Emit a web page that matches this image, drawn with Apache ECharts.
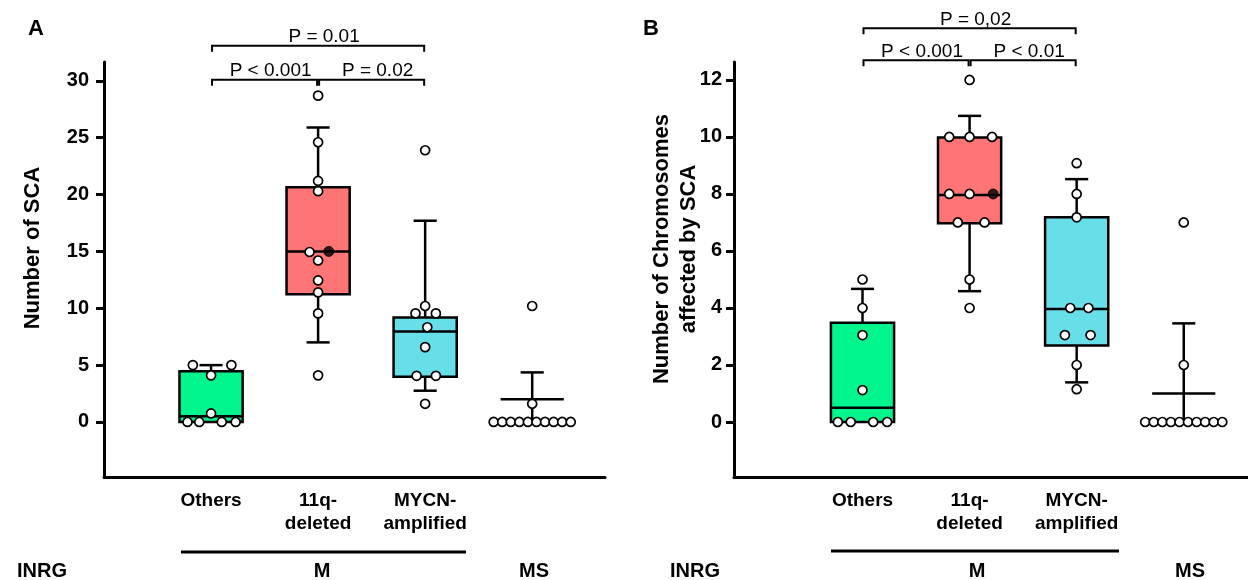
<!DOCTYPE html>
<html>
<head>
<meta charset="utf-8">
<script src="https://cdn.jsdelivr.net/npm/echarts@6/dist/echarts.min.js"></script>
<style>
  html, body { margin: 0; background: #fff; }
  #chart { width: 1248px; height: 580px; }
</style>
</head>
<body>
<div id="chart"></div>
<script>
// categories on both panels
const categories = ['Others', '11q-\ndeleted', 'MYCN-\namplified', 'MS'];
const groupColors = ['#00F58C', '#FF7474', '#67DFE9', null];

const scaTicks = [0, 5, 10, 15, 20, 25, 30];
const chrTicks = [0, 2, 4, 6, 8, 10, 12];

// per group: [whisker low, q1, median, q3, whisker high]
const scaStats = [
  [0, 0, 0.5, 4.47, 5.0],
  [7.0, 11.23, 15, 20.64, 25.9],
  [2.75, 3.97, 7.95, 9.18, 17.7],
  [0, 2, 2, 2, 4.36]
];
const chrStats = [
  [0, 0, 0.5, 3.48, 4.67],
  [4.59, 6.97, 7.96, 9.98, 10.74],
  [1.39, 2.68, 3.96, 7.18, 8.52],
  [0, 1, 1, 1, 3.46]
];

// individual patients: [jitter, value]
const scaOthers = [[-0.17, 5.0], [0.19, 5.0], [0, 4.1], [0, 0.75], [-0.22, 0], [-0.11, 0], [0.1, 0], [0.23, 0]];
const sca11q = [[0, 28.7], [0, 24.6], [0, 21.2], [0, 20.3], [-0.08, 14.95], [0, 14.2], [0, 12.45], [0, 11.4], [0, 9.55], [0, 4.1]];
const scaMycn = [[0, 23.9], [0, 10.2], [-0.09, 9.55], [0.1, 9.55], [0.02, 8.33], [0, 6.58], [-0.08, 4.06], [0.1, 4.06], [0, 1.6]];
const scaMs = [[0, 10.2], [0, 1.6], [-0.36, 0], [-0.28, 0], [-0.2, 0], [-0.12, 0], [-0.04, 0], [0.04, 0], [0.12, 0], [0.2, 0], [0.28, 0], [0.36, 0]];
const scaMarked = [[1, 0.1, 15]]; // group, jitter, value

const chrOthers = [[0, 5], [0, 4], [0, 3.05], [0, 1.12], [-0.23, 0], [-0.11, 0], [0.1, 0], [0.23, 0]];
const chr11q = [[0, 12], [-0.19, 10], [0, 10], [0.21, 10], [-0.19, 8], [0, 8], [-0.11, 7], [0.14, 7], [0, 5], [0, 4]];
const chrMycn = [[0, 9.08], [0, 8], [0, 7.18], [-0.06, 4], [0.11, 4], [-0.11, 3.05], [0.13, 3.05], [0, 2], [0, 1.15]];
const chrMs = [[0, 7], [0, 2], [-0.36, 0], [-0.28, 0], [-0.2, 0], [-0.12, 0], [-0.04, 0], [0.04, 0], [0.12, 0], [0.2, 0], [0.28, 0], [0.36, 0]];
const chrMarked = [[1, 0.22, 8]];

// significance brackets between groups (1-based)
const sigPairs = [[1, 2], [2, 3], [1, 3]];
const scaP = ['P < 0.001', 'P = 0.02', 'P = 0.01'];
const chrP = ['P < 0.001', 'P < 0.01', 'P = 0,02'];

const FONT = '"Liberation Sans", Arial, sans-serif';

function boxRenderer(stats) {
  return function (params, api) {
    const gi = params.dataIndex;
    const x = api.value(0);
    const [lo, q1, med, q3, hi] = stats[gi];
    const unit = api.size([1, 0])[0];
    const half = unit * 0.295, cap = unit * 0.108;
    const cx = api.coord([x, 0])[0];
    const y = v => api.coord([x, v])[1];
    const line = { stroke: '#000', lineWidth: 2.5 };
    const kids = [];
    if (hi > q3) {
      kids.push({ type: 'line', shape: { x1: cx, y1: y(q3), x2: cx, y2: y(hi) }, style: line });
      kids.push({ type: 'line', shape: { x1: cx - cap, y1: y(hi), x2: cx + cap, y2: y(hi) }, style: line });
    }
    if (lo < q1) {
      kids.push({ type: 'line', shape: { x1: cx, y1: y(q1), x2: cx, y2: y(lo) }, style: line });
      kids.push({ type: 'line', shape: { x1: cx - cap, y1: y(lo), x2: cx + cap, y2: y(lo) }, style: line });
    }
    if (q3 > q1) {
      kids.push({ type: 'rect', shape: { x: cx - half, y: y(q3), width: half * 2, height: y(q1) - y(q3) },
        style: { fill: groupColors[gi], stroke: '#000', lineWidth: 2.5 } });
    }
    kids.push({ type: 'line', shape: { x1: cx - half, y1: y(med), x2: cx + half, y2: y(med) }, style: line });
    return { type: 'group', children: kids };
  };
}

function bracketRenderer(labels) {
  return function (params, api) {
    const a = api.coord([api.value(0), api.value(2)]);
    const b = api.coord([api.value(1), api.value(2)]);
    const x1 = a[0] + 1, x2 = b[0] - 1, yy = a[1];
    return {
      type: 'group',
      children: [
        { type: 'polyline', shape: { points: [[x1, yy + 6], [x1, yy], [x2, yy], [x2, yy + 6]] },
          style: { stroke: '#000', lineWidth: 2, fill: 'none' } },
        { type: 'text', x: (x1 + x2) / 2 + 6, y: yy + 1,
          style: { text: labels[params.dataIndex], font: '19px ' + FONT, fill: '#000', align: 'center', verticalAlign: 'bottom' } }
      ]
    };
  };
}

function panel(idx, stats, groups, marked, labels, tiers) {
  const pts = [];
  groups.forEach((g, gi) => g.forEach(([j, v]) => pts.push([gi + 1 + j, v])));
  return [
    { type: 'custom', xAxisIndex: idx, yAxisIndex: idx, z: 2,
      renderItem: boxRenderer(stats),
      data: stats.map((s, gi) => [gi + 1, s[0], s[4]]),
      encode: { x: 0, y: [1, 2] } },
    { type: 'scatter', xAxisIndex: idx, yAxisIndex: idx, z: 3, symbol: 'circle', symbolSize: 9,
      itemStyle: { color: '#fff', borderColor: '#000', borderWidth: 1.7, opacity: 1 },
      data: pts },
    { type: 'scatter', xAxisIndex: idx, yAxisIndex: idx, z: 4, symbol: 'circle', symbolSize: 10,
      itemStyle: { color: '#000', borderColor: '#000', borderWidth: 1 },
      data: marked.map(([gi, j, v]) => [gi + 1 + j, v]) },
    { type: 'custom', xAxisIndex: idx, yAxisIndex: idx, z: 5, clip: false,
      renderItem: bracketRenderer(labels),
      data: sigPairs.map(p => [p[0], p[1], tiers[p[1] - p[0] - 1]]),
      encode: { x: [0, 1], y: 2 } }
  ];
}

function xAxis(idx, min, max) {
  return {
    gridIndex: idx, type: 'value', min: min, max: max,
    axisLine: { show: true, onZero: false, lineStyle: { color: '#000', width: 3 } },
    axisTick: { show: false },
    splitLine: { show: false },
    axisLabel: {
      customValues: [1, 2, 3],
      formatter: v => categories[Math.round(v) - 1],
      color: '#000', fontSize: 19, fontWeight: 'bold', lineHeight: 23, margin: 12, fontFamily: FONT
    }
  };
}

function yAxis(idx, min, max, ticks, margin) {
  return {
    gridIndex: idx, type: 'value', min: min, max: max,
    axisLine: { show: true, onZero: false, lineStyle: { color: '#000', width: 3 } },
    axisTick: { show: true, customValues: ticks, length: 8, lineStyle: { color: '#000', width: 3 } },
    splitLine: { show: false },
    axisLabel: { customValues: ticks, color: '#000', fontSize: 20, fontWeight: 'bold', margin: margin, fontFamily: FONT }
  };
}

const boldText = (text, x, y, size, extra, lineHeight) => Object.assign({
  type: 'text', x: x, y: y,
  style: { text: text, font: 'bold ' + size + 'px ' + FONT, fill: '#000', align: 'center', verticalAlign: 'middle',
    lineHeight: lineHeight || size }
}, extra || {});

const chart = echarts.init(document.getElementById('chart'));
chart.setOption({
  animation: false,
  backgroundColor: '#fff',
  textStyle: { fontFamily: FONT },
  grid: [
    { left: 104, top: 62, width: 501, height: 415 },
    { left: 734, top: 62, width: 514, height: 415 }
  ],
  xAxis: [xAxis(0, 0, 4.68), xAxis(1, -0.2, 4.6)],
  yAxis: [yAxis(0, -4.84, 31.66, scaTicks, 15), yAxis(1, -1.93, 12.63, chrTicks, 12)],
  series: [
    ...panel(0, scaStats, [scaOthers, sca11q, scaMycn, scaMs], scaMarked, scaP, [30.1, 33.1]),
    ...panel(1, chrStats, [chrOthers, chr11q, chrMycn, chrMs], chrMarked, chrP, [12.69, 13.81])
  ],
  graphic: [
    boldText('A', 36, 29, 22),
    boldText('B', 651, 29, 22),
    boldText('Number of SCA', 33, 248, 22, { rotation: Math.PI / 2 }),
    boldText('Number of Chromosomes\naffected by SCA', 675, 249, 22, { rotation: Math.PI / 2 }, 27),
    boldText('INRG', 42, 571, 20),
    { type: 'line', shape: { x1: 181, y1: 552, x2: 466, y2: 552 }, style: { stroke: '#000', lineWidth: 3 } },
    boldText('M', 322, 571, 20),
    boldText('MS', 534, 571, 20),
    boldText('INRG', 695, 571, 20),
    { type: 'line', shape: { x1: 831, y1: 551, x2: 1119, y2: 551 }, style: { stroke: '#000', lineWidth: 3 } },
    boldText('M', 977, 571, 20),
    boldText('MS', 1190, 571, 20)
  ]
});
</script>
</body>
</html>
